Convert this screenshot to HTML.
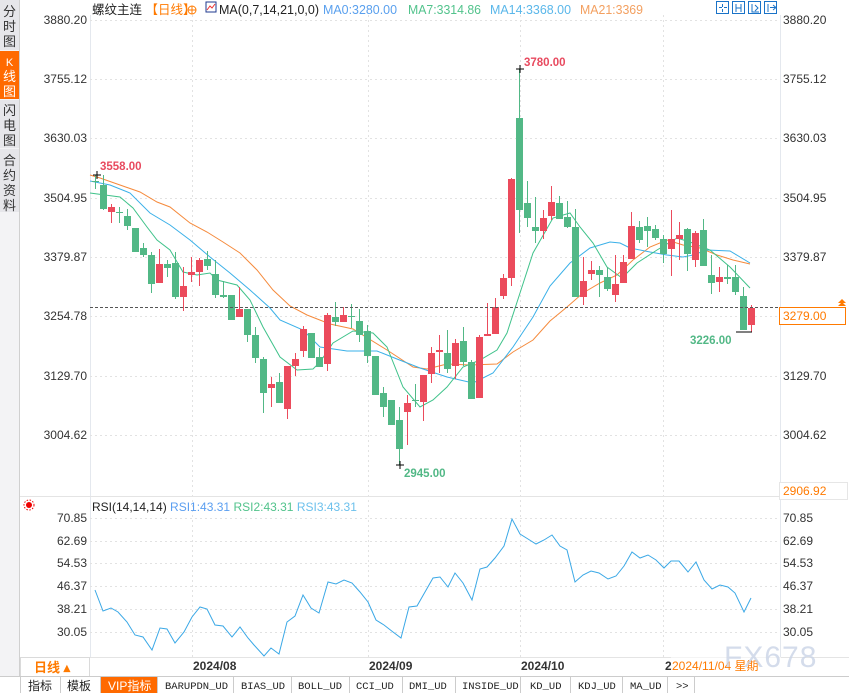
<!DOCTYPE html>
<html><head><meta charset="utf-8"><style>
body{margin:0;width:849px;height:693px;overflow:hidden;background:#fff;font-family:"Liberation Sans","Noto Sans CJK SC",sans-serif;}
svg{display:block}
</style></head><body>
<svg id="s" width="849" height="693" xmlns="http://www.w3.org/2000/svg" font-family="Liberation Sans, Noto Sans CJK SC, sans-serif">
<rect x="0" y="0" width="849" height="693" fill="#fff"/>
<rect x="0" y="0" width="19" height="676" fill="#f3f3f5"/>
<rect x="0" y="0" width="19" height="50" fill="#e6e6ea"/>
<rect x="0" y="51" width="19" height="48" fill="#ff6a00"/>
<rect x="0" y="100" width="19" height="48" fill="#e6e6ea"/>
<rect x="0" y="149" width="19" height="63" fill="#e6e6ea"/>
<line x1="19.5" y1="0" x2="19.5" y2="676" stroke="#d0d0d0"/>
<g font-size="13" fill="#333" text-anchor="middle">
<text x="9.5" y="16">分</text><text x="9.5" y="31">时</text><text x="9.5" y="46">图</text>
<text x="9.5" y="66" fill="#fff" font-size="11">K</text><text x="9.5" y="81" fill="#fff">线</text><text x="9.5" y="96" fill="#fff">图</text>
<text x="9.5" y="115">闪</text><text x="9.5" y="130">电</text><text x="9.5" y="145">图</text>
<text x="9.5" y="165">合</text><text x="9.5" y="180">约</text><text x="9.5" y="195">资</text><text x="9.5" y="210">料</text>
</g>
<line x1="90.5" y1="15" x2="90.5" y2="657" stroke="#e4e8ee"/>
<line x1="780.5" y1="15" x2="780.5" y2="657" stroke="#e4e8ee"/>
<g id="grid" stroke="#e2e2e2" stroke-dasharray="2,3"></g>
<g id="ma" fill="none" stroke-width="1"></g>
<g id="cd"></g>
<text x="92" y="14" font-size="12.5" fill="#222">螺纹主连 <tspan fill="#ff7a00">【日线】</tspan></text>
<circle cx="192" cy="10" r="4" fill="none" stroke="#ff7a00"/><line x1="188" y1="10" x2="196" y2="10" stroke="#ff7a00"/><line x1="192" y1="6" x2="192" y2="14" stroke="#ff7a00"/>
<rect x="206" y="2" width="10" height="10" fill="#fff" stroke="#1f3a8f"/><polyline points="207,10 210,6 212,8 215,4" stroke="#e33" fill="none"/>
<text x="219" y="14" font-size="12.5" fill="#222" textLength="100" lengthAdjust="spacingAndGlyphs">MA(0,7,14,21,0,0)</text>
<text x="323" y="14" font-size="12.5" fill="#5aa0ee" textLength="74" lengthAdjust="spacingAndGlyphs">MA0:3280.00</text>
<text x="408" y="14" font-size="12.5" fill="#52c38c" textLength="73" lengthAdjust="spacingAndGlyphs">MA7:3314.86</text>
<text x="490" y="14" font-size="12.5" fill="#5ab7ea" textLength="81" lengthAdjust="spacingAndGlyphs">MA14:3368.00</text>
<text x="580" y="14" font-size="12.5" fill="#f3a060" textLength="63" lengthAdjust="spacingAndGlyphs">MA21:3369</text>
<g fill="none" stroke="#1a73c8">
<rect x="716.5" y="1.5" width="12" height="12"/><rect x="732.5" y="1.5" width="12" height="12"/><rect x="748.5" y="1.5" width="12" height="12"/><rect x="764.5" y="1.5" width="12" height="12"/>
<path d="M722.5 4v3M722.5 9v3M719 7.5h3M724 7.5h3M736 4v8M741 4v8M736 8h5M752 4v8h7M755 5l3 3-3 3M768 4v8M770 7.5h5M773 5l3 2.5-3 2.5"/>
</g>
<g id="ylab" font-size="12" fill="#333"></g>
<text x="100" y="170" font-size="11.5" font-weight="bold" fill="#e84a5f">3558.00</text>
<path d="M93 175h8M97 171v8" stroke="#000"/>
<text x="524" y="66" font-size="11.5" font-weight="bold" fill="#e84a5f">3780.00</text>
<path d="M516 69h8M520 65v8" stroke="#000"/>
<text x="404" y="477" font-size="11.5" font-weight="bold" fill="#52b886">2945.00</text>
<path d="M396 465h8M400 461v8" stroke="#000"/>
<text x="690" y="344" font-size="11.5" font-weight="bold" fill="#52b886">3226.00</text>
<path d="M736 332h16" stroke="#000"/>
<line x1="90" y1="307.5" x2="780" y2="307.5" stroke="#555" stroke-dasharray="3,2"/>
<rect x="779.5" y="307.5" width="66" height="17" fill="#fff" stroke="#ff7a00"/>
<text x="783" y="320" font-size="12" fill="#ff7a00">3279.00</text>
<path d="M838 303l4-4 4 4zM838 306l4-4 4 4z" fill="#ff7a00"/>
<rect x="779.5" y="482.5" width="68" height="17" fill="#fff" stroke="#e6e6e6"/>
<text x="783" y="495" font-size="12" fill="#ff7a00">2906.92</text>
<line x1="20" y1="496.5" x2="780" y2="496.5" stroke="#e4e4e4"/>
<circle cx="29" cy="505" r="3" fill="#e00"/><circle cx="29" cy="505" r="5" fill="none" stroke="#e00" stroke-dasharray="1.5,1.5"/>
<text x="92" y="511" font-size="12" fill="#222">RSI(14,14,14) <tspan fill="#5a9ef0">RSI1:43.31</tspan> <tspan fill="#52c38c">RSI2:43.31</tspan> <tspan fill="#6cc0ec">RSI3:43.31</tspan></text>
<g id="rlab" font-size="12" fill="#333"></g>
<polyline id="rsi" fill="none" stroke="#3aa8e6" stroke-width="1"/>
<line x1="20" y1="657.5" x2="849" y2="657.5" stroke="#e4e4e4"/>
<rect x="20.5" y="657.5" width="69" height="19" fill="#fff" stroke="#dadada"/>
<text x="34" y="672" font-size="13" font-weight="bold" fill="#ff7a00">日线 ▴</text>
<g font-size="12" font-weight="bold" fill="#333">
<text x="193" y="670">2024/08</text><text x="369" y="670">2024/09</text><text x="521" y="670">2024/10</text><text x="665" y="670">2</text>
</g>
<rect x="671" y="657" width="110" height="17" fill="#fff" fill-opacity="0.6"/>
<text x="672" y="670" font-size="12" fill="#ff7a00">2024/11/04 星期</text>
<text x="724" y="667" font-size="30" fill="#c9d3e6" fill-opacity="0.8" letter-spacing="1">FX678</text>
<rect x="0" y="676" width="849" height="17" fill="#fff"/>
<line x1="0" y1="676.5" x2="849" y2="676.5" stroke="#ccc"/>
<rect x="100" y="677" width="57" height="16" fill="#ff6a00"/>
<g stroke="#ccc" id="tabdiv"></g>
<g font-size="12" fill="#222">
<text x="28" y="690">指标</text><text x="67" y="690">模板</text><text x="108" y="690" fill="#fff">VIP指标</text>
</g>
<g font-size="10.5" fill="#222" font-family="Liberation Mono, monospace">
<text x="165" y="689">BARUPDN_UD</text><text x="241" y="689">BIAS_UD</text><text x="298" y="689">BOLL_UD</text><text x="356" y="689">CCI_UD</text><text x="409" y="689">DMI_UD</text><text x="462" y="689">INSIDE_UD</text><text x="530" y="689">KD_UD</text><text x="578" y="689">KDJ_UD</text><text x="630" y="689">MA_UD</text><text x="676" y="689">&gt;&gt;</text>
</g>
</svg>
<script>
var NS="http://www.w3.org/2000/svg";
function el(p,t,a,txt){var e=document.createElementNS(NS,t);for(var k in a)e.setAttribute(k,a[k]);if(txt)e.textContent=txt;document.getElementById(p).appendChild(e);return e;}
var yl=[["3880.20",20],["3755.12",79],["3630.03",138],["3504.95",198],["3379.87",257],["3254.78",316],["3129.70",376],["3004.62",435]];
yl.forEach(function(a){el("grid","line",{x1:90,x2:780,y1:a[1]+.5,y2:a[1]+.5});el("ylab","text",{x:87,y:a[1]+4,"text-anchor":"end"},a[0]);el("ylab","text",{x:783,y:a[1]+4},a[0]);});
[192,368,520,663].forEach(function(x){el("grid","line",{x1:x+.5,x2:x+.5,y1:15,y2:657});});
var rl=[["70.85",518],["62.69",541],["54.53",563],["46.37",586],["38.21",609],["30.05",632]];
rl.forEach(function(a){el("grid","line",{x1:90,x2:780,y1:a[1]+.5,y2:a[1]+.5});el("rlab","text",{x:87,y:a[1]+4,"text-anchor":"end"},a[0]);el("rlab","text",{x:783,y:a[1]+4},a[0]);});
[20,60,100,157,233,291,349,402,455,520,570,622,667,694].forEach(function(x){el("tabdiv","line",{x1:x+.5,x2:x+.5,y1:677,y2:693});});
var C=[["g",181,182,175,189],["g",185,209,175,210],["r",207,212,204,223],["g",212,213,207,223],["g",216,226,209,230],["g",228,252,228,252],["g",248,255,243,257],["g",255,284,252,293],["r",264,283,249,283],["g",264,268,260,277],["g",263,297,252,299],["r",286,297,267,311],["r",272,275,257,282],["r",260,272,258,286],["g",259,266,251,270],["g",274,295,260,298],["g",295,297,281,298],["g",295,320,295,320],["r",309,317,287,317],["g",309,335,309,342],["g",335,358,327,363],["g",359,393,357,413],["r",384,388,377,407],["g",382,403,373,403],["r",366,409,366,419],["r",359,366,353,376],["r",329,351,326,357],["g",333,358,333,358],["g",357,367,348,367],["r",315,364,313,371],
["g",317,322,302,326],["r",315,322,307,322],["g",316,317,304,328],["g",321,335,309,342],["g",331,356,325,363],["g",356,395,356,395],["g",393,407,387,417],["g",400,425,400,425],["g",420,449,407,465],["r",403,412,395,445],["g",400,401,384,407],["r",375,402,375,421],["r",353,374,347,383],["r",350,352,335,373],["g",353,369,330,373],["r",343,366,339,379],["g",341,362,327,366],["g",362,399,360,399],["r",337,398,335,398],["r",334,336,303,336],["r",307,334,298,334],["r",278,296,274,299],["r",179,278,178,286],["g",118,210,69,233],["g",203,218,181,227],["g",227,231,197,243],["r",218,231,210,239],["r",202,216,186,220],["g",203,219,196,219],["g",217,227,201,228],["g",227,297,209,297],["r",281,297,257,305],["r",270,274,261,280],["g",270,275,266,297],["g",277,289,267,291],["r",284,295,255,302],["r",262,283,255,283],["r",226,259,212,259],["g",227,240,221,243],["g",226,231,217,247],["g",229,238,225,240],["g",239,254,235,263],["r",239,249,210,276],["r",235,239,222,260],["g",229,254,228,271],["r",233,260,231,267],["g",230,266,219,266],["g",275,283,255,294],["r",277,282,267,292],["g",277,279,265,284],["g",277,292,265,295],["g",296,330,287,330],["r",308,325,305,332]];
C.forEach(function(c,i){var x=95+8*i,col=c[0]=="r"?"#eb4b5c":"#52b886";
el("cd","line",{x1:x+.5,x2:x+.5,y1:c[3],y2:c[4],stroke:col});
el("cd","rect",{x:x-3,y:c[1],width:7,height:Math.max(1,c[2]-c[1]),fill:col});});
var o="90,175 100,178 120,185 140,192 157,202 170,207 190,223 207,232 223,242 240,253 257,270 273,290 290,306 307,315 330,324 353,329 387,350 413,367 427,369 447,364 470,365 497,364 513,352 533,340 550,321 567,307 583,293 600,283 617,275 633,260 650,247 667,240 683,245 700,248 717,255 733,260 750,264";
var b="90,181 110,185 130,193 150,213 170,225 190,240 210,257 230,273 250,290 270,308 280,320 303,330 320,347 347,351 377,351 397,359 420,368 447,377 473,383 493,373 513,347 533,317 550,286 570,263 590,248 610,242 620,243 630,248 650,252 667,255 683,257 693,255 707,250 730,251 750,263";
var g="90,193 120,197 133,208 147,227 157,240 170,250 183,272 197,275 210,273 217,280 237,285 250,300 263,327 280,357 297,370 313,369 320,362 333,343 353,331 373,333 387,347 403,387 420,407 433,400 447,387 463,367 480,360 497,350 507,333 520,293 533,253 553,218 570,213 580,227 593,243 607,267 622,278 637,263 657,250 677,238 690,242 710,250 730,267 750,288";
el("ma","polyline",{points:o,stroke:"#f58a3c"});el("ma","polyline",{points:b,stroke:"#3ab0e8"});el("ma","polyline",{points:g,stroke:"#3fc28a"});
document.getElementById("rsi").setAttribute("points","95,590 103,611 111,608 118,612 127,622 135,635 143,637 152,650 160,628 167,629 175,643 184,632 192,617 200,607 207,609 215,625 223,626 232,637 240,627 248,638 254,645 264,656 271,648 279,654 287,622 295,616 303,595 311,608 319,613 328,582 336,584 344,580 352,583 360,592 368,602 376,620 384,625 393,632 401,638 409,607 417,606 425,592 433,578 440,577 448,587 455,573 463,583 472,600 480,569 487,567 495,558 504,546 512,519 520,534 528,539 536,544 544,540 552,535 560,546 567,550 575,582 583,575 591,571 599,573 608,579 616,576 624,566 632,552 640,558 648,555 656,560 664,568 671,561 679,561 688,572 696,562 704,580 712,589 720,585 728,587 735,593 744,612 751,598");
</script>
</body></html>
